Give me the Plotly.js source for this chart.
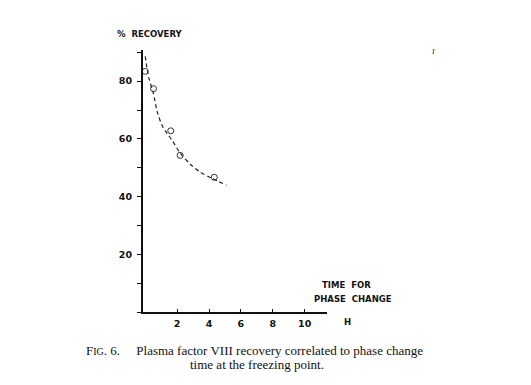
<!DOCTYPE html>
<html>
<head>
<meta charset="utf-8">
<script src="https://cdn.plot.ly/plotly-3.0.1.min.js"></script>
<style>
html,body{margin:0;padding:0;background:#fff;}
#chart{width:531px;height:385px;}
</style>
</head>
<body>
<div id="chart"></div>
<script>
// measured recovery points (time for phase change in H, % recovery)
var pointTime = [0.0, 0.52, 1.6, 2.19, 4.33];
var pointRecovery = [83.4, 77.4, 62.8, 54.3, 46.7];

// fitted dashed curve
var curveTime = [0.0, 0.21, 0.5, 0.77, 1.08, 1.35, 1.66, 2.19, 2.81, 3.44, 4.13, 5.1];
var curveRecovery = [88.6, 81.5, 76.0, 69.0, 64.4, 62.0, 59.7, 55.1, 51.3, 48.5, 46.5, 43.9];

var xTickVals = [2, 4, 6, 8, 10];
var yTickVals = [20, 40, 60, 80];

var caption1 = "F<span style='font-size:10px'>IG</span>. 6.     Plasma factor VIII recovery correlated to phase change";
var caption2 = "time at the freezing point.";

var tickFont = {family: "DejaVu Sans", size: 9.5, color: "#111", weight: "bold"};

var data = [
  {
    x: curveTime, y: curveRecovery, type: "scatter", mode: "lines",
    line: {color: "#222", width: 1.2, dash: "4px,3px", shape: "spline", smoothing: 0.8},
    hoverinfo: "skip", showlegend: false
  },
  {
    x: pointTime, y: pointRecovery, type: "scatter", mode: "markers",
    marker: {symbol: "circle-open", size: 6, color: "#333", line: {width: 1, color: "#333"}},
    showlegend: false, cliponaxis: false
  }
];

var layout = {
  width: 531, height: 385,
  paper_bgcolor: "#fff", plot_bgcolor: "#fff",
  margin: {l: 142.5, r: 204.3, t: 50, b: 72.7, pad: 0},
  showlegend: false,
  xaxis: {
    range: [-0.14, 11.4], showgrid: false, zeroline: false,
    showline: true, linecolor: "#111", linewidth: 1.5,
    tickvals: xTickVals, ticks: "inside", ticklen: 3, tickwidth: 1, tickcolor: "#111",
    tickfont: tickFont, ticklabelstandoff: 2, fixedrange: true
  },
  yaxis: {
    range: [0, 90.8], showgrid: false, zeroline: false,
    showline: true, linecolor: "#111", linewidth: 2,
    tickvals: yTickVals, ticks: "outside", ticklen: 4, tickwidth: 1, tickcolor: "#111",
    minor: {dtick: 10, ticks: "outside", ticklen: 4, tickwidth: 1, tickcolor: "#111"},
    tickfont: tickFont, ticklabelstandoff: 3, fixedrange: true
  },
  annotations: [
    {xref: "paper", yref: "paper", x: -0.15, y: 1.06, xanchor: "left", yanchor: "middle",
     text: "%  RECOVERY", showarrow: false,
     font: {family: "DejaVu Sans", size: 8.5, color: "#111", weight: "bold"}},
    {xref: "paper", yref: "paper", x: 1.105, y: 0.103, xanchor: "center", yanchor: "middle",
     text: "TIME  FOR", showarrow: false,
     font: {family: "DejaVu Sans", size: 8.5, color: "#111", weight: "bold"}},
    {xref: "paper", yref: "paper", x: 1.14, y: 0.05, xanchor: "center", yanchor: "middle",
     text: "PHASE  CHANGE", showarrow: false,
     font: {family: "DejaVu Sans", size: 8.5, color: "#111", weight: "bold"}},
    {xref: "paper", yref: "paper", x: 1.109, y: -0.037, xanchor: "center", yanchor: "middle",
     text: "H", showarrow: false,
     font: {family: "DejaVu Sans", size: 8.5, color: "#111", weight: "bold"}},
    {xref: "paper", yref: "paper", x: 1.58, y: 1.0, xanchor: "center", yanchor: "middle",
     text: "<i>ı</i>", showarrow: false,
     font: {family: "Liberation Serif", size: 10, color: "#333"}},
    {xref: "paper", yref: "paper", x: -0.321, y: -0.1475, xanchor: "left", yanchor: "middle",
     text: caption1, showarrow: false,
     font: {family: "Liberation Serif", size: 13, color: "#111"}},
    {xref: "paper", yref: "paper", x: 0.622, y: -0.2017, xanchor: "center", yanchor: "middle",
     text: caption2, showarrow: false,
     font: {family: "Liberation Serif", size: 13, color: "#111"}}
  ]
};

Plotly.newPlot("chart", data, layout, {displayModeBar: false, staticPlot: true});
</script>
</body>
</html>
